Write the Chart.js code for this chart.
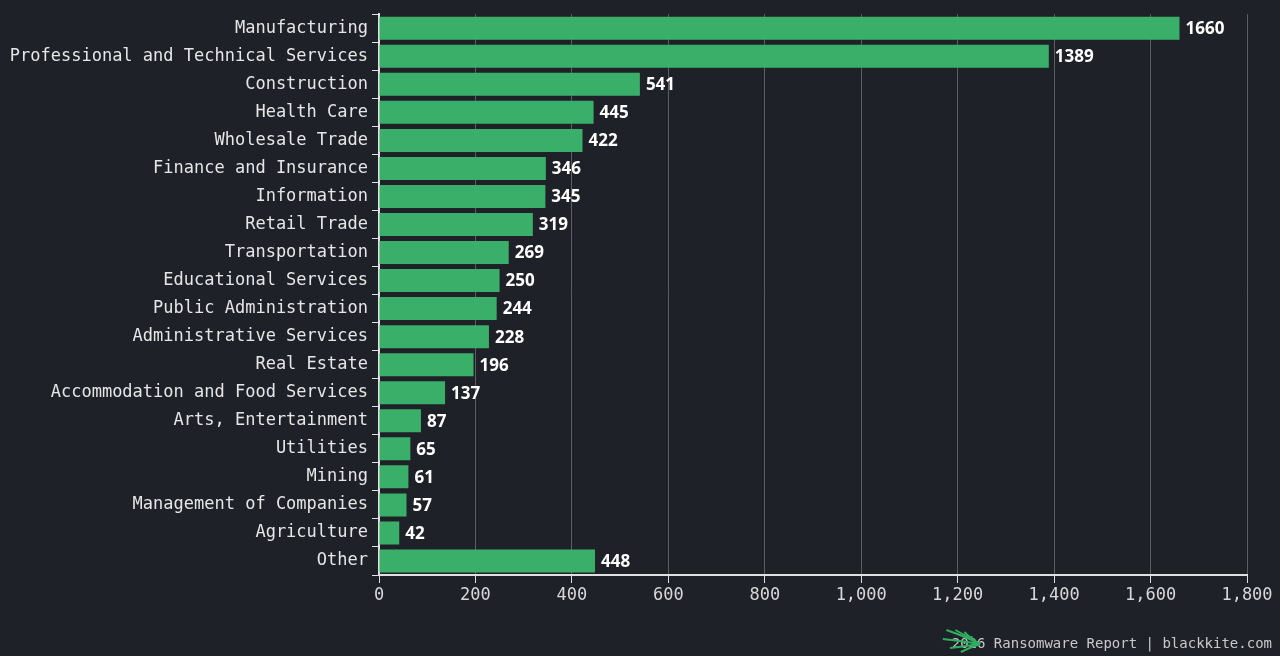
<!DOCTYPE html>
<html>
<head>
<meta charset="utf-8">
<script src="https://cdn.jsdelivr.net/npm/chart.js@4"></script>
<style>
  html, body { margin: 0; padding: 0; background: #1f2128; }
  #wrap { width: 1280px; height: 656px; }
</style>
</head>
<body>
<div id="wrap"><canvas id="c" width="1280" height="656"></canvas></div>
<script>
const categorias = [
  'Manufacturing', 'Professional and Technical Services', 'Construction', 'Health Care',
  'Wholesale Trade', 'Finance and Insurance', 'Information', 'Retail Trade',
  'Transportation', 'Educational Services', 'Public Administration', 'Administrative Services',
  'Real Estate', 'Accommodation and Food Services', 'Arts, Entertainment', 'Utilities',
  'Mining', 'Management of Companies', 'Agriculture', 'Other'
];
const valores = [1660, 1389, 541, 445, 422, 346, 345, 319, 269, 250, 244, 228, 196, 137, 87, 65, 61, 57, 42, 448];
const ticksX = [0, 200, 400, 600, 800, 1000, 1200, 1400, 1600, 1800];

const mono = '"DejaVu Sans Mono", monospace';

// etiquetas de valor al final de cada barra
const etiquetas = {
  id: 'etiquetas',
  afterDatasetsDraw(chart) {
    const ctx = chart.ctx;
    const meta = chart.getDatasetMeta(0);
    ctx.save();
    ctx.fillStyle = '#ffffff';
    ctx.font = 'bold 17px "Noto Sans", sans-serif';
    ctx.textBaseline = 'middle';
    meta.data.forEach((bar, i) => {
      ctx.fillText(valores[i], bar.x + 6, bar.y + 1);
    });
    ctx.restore();
  },
  afterDraw(chart) {
    const ctx = chart.ctx;
    ctx.save();
    ctx.fillStyle = '#c9c9c9';
    ctx.font = '14px ' + mono;
    ctx.textAlign = 'right';
    ctx.textBaseline = 'middle';
    ctx.fillText('2026 Ransomware Report | blackkite.com', 1272, 644);
    // logo simple
    ctx.strokeStyle = '#2fae5f';
    ctx.lineWidth = 2;
    [[-12, -14], [-7, -14], [-2, -12], [2, -8], [-14, -5], [-10, 4], [-4, 8]].forEach(([dx, dy]) => {
      ctx.beginPath();
      ctx.moveTo(980, 644);
      ctx.quadraticCurveTo(970 + dx * 0.3, 644 + dy * 0.5, 968 + dx * 1.8, 644 + dy);
      ctx.stroke();
    });
    ctx.restore();
  }
};

new Chart(document.getElementById('c'), {
  type: 'bar',
  data: {
    labels: categorias,
    datasets: [{
      data: valores,
      backgroundColor: '#3aaf6a',
      barPercentage: 0.82,
      categoryPercentage: 1.0
    }]
  },
  options: {
    indexAxis: 'y',
    responsive: false,
    animation: false,
    layout: { padding: { top: 10, right: 33, bottom: 41, left: 0 } },
    plugins: { legend: { display: false }, tooltip: { enabled: false } },
    scales: {
      x: {
        min: 0, max: 1800,
        afterBuildTicks(scale) { scale.ticks = ticksX.map(v => ({ value: v })); },
        afterFit(scale) { scale.height = 40; },
        grid: { color: 'rgba(255,255,255,0.28)', tickColor: '#e0e0e0', tickLength: 8, lineWidth: 1 },
        border: { color: '#e0e0e0', width: 2 },
        ticks: { color: '#d8d8d8', font: { family: mono, size: 17 }, padding: 2 }
      },
      y: {
        afterFit(scale) { scale.width = 379; },
        grid: { drawOnChartArea: false, tickColor: '#e0e0e0', tickLength: 7 },
        border: { color: '#e0e0e0', width: 2 },
        ticks: { color: '#e6e6e6', font: { family: mono, size: 17 }, padding: 4, autoSkip: false }
      }
    }
  },
  plugins: [etiquetas]
});
</script>
</body>
</html>
